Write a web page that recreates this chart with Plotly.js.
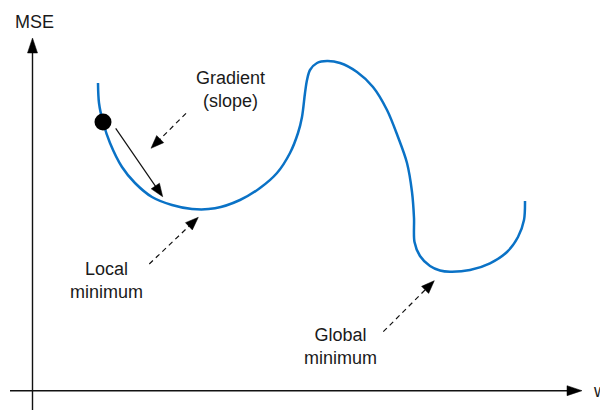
<!DOCTYPE html>
<html>
<head>
<meta charset="utf-8">
<script src="https://cdn.plot.ly/plotly-3.0.1.min.js"></script>
<style>html,body{margin:0;padding:0;background:#fff;}#chart{width:600px;height:410px;}</style>
</head>
<body>
<div id="chart"></div>
<script>
// Loss curve: weight w vs MSE
const curveW   = [98, 99, 103, 110, 122, 135, 152, 172, 192, 215, 240, 260, 277, 290, 298, 302, 305, 307, 310, 317, 327, 340, 357, 373, 387, 398, 407, 412, 414, 414.5, 420, 430, 440, 450, 470, 490, 507, 518, 524, 525];
const curveMSE = [327, 307, 288, 267, 243, 227, 213, 205, 201, 201.7, 210, 222, 237, 257, 277, 293, 317, 330, 340, 347, 349, 347, 338, 323, 300, 273, 247, 218, 192, 168, 154, 144, 139.5, 138.3, 140, 146.7, 158, 173, 190, 209];

// Current position of the ball
const ballW = [103];
const ballMSE = [288];

// Text labels
const labelTexts = ["Gradient<br>(slope)", "Local<br>minimum", "Global<br>minimum"];
const axisLabels = ["MSE", "w"];

const H = 410;
const font = {family: "Liberation Sans, Arial, sans-serif", size: 18, color: "#1a1a1a"};

function arrowShapes(x0, y0, x1, y1, opts) {
  const len = opts.headLen, hw = opts.headWidth / 2;
  const dx = x1 - x0, dy = y1 - y0;
  const d = Math.hypot(dx, dy);
  const ux = dx / d, uy = dy / d;
  const bx = x1 - ux * len, by = y1 - uy * len;
  const px = -uy, py = ux;
  const shapes = [];
  shapes.push({type: "line", xref: "x", yref: "y", x0: x0, y0: y0, x1: bx + ux * 1, y1: by + uy * 1,
    line: {color: "#111", width: opts.width, dash: opts.dash || "solid"}});
  shapes.push({type: "path", xref: "x", yref: "y",
    path: `M ${x1} ${y1} L ${bx + px * hw} ${by + py * hw} L ${bx - px * hw} ${by - py * hw} Z`,
    fillcolor: "#000", line: {color: "#000", width: 0.5}});
  return shapes;
}

let shapes = [];
// axes
shapes = shapes.concat(arrowShapes(32.5, H - 410, 32.5, H - 38, {headLen: 15, headWidth: 10, width: 1.4}));
shapes = shapes.concat(arrowShapes(10, H - 390.7, 582, H - 390.7, {headLen: 15, headWidth: 10, width: 1.4}));
// gradient solid arrow
shapes = shapes.concat(arrowShapes(115.7, H - 128.3, 162.7, H - 196.7, {headLen: 13, headWidth: 10, width: 1.2}));
// gradient dashed
shapes = shapes.concat(arrowShapes(186, H - 113.3, 151, H - 148.3, {headLen: 13, headWidth: 10, width: 1.2, dash: "5px,4px"}));
// local minimum dashed
shapes = shapes.concat(arrowShapes(149.3, H - 264, 198.3, H - 217.3, {headLen: 13, headWidth: 10, width: 1.2, dash: "5px,4px"}));
// global minimum dashed
shapes = shapes.concat(arrowShapes(383.3, H - 331.7, 434.3, H - 280.7, {headLen: 13, headWidth: 10, width: 1.2, dash: "5px,4px"}));

const traces = [
  {x: curveW, y: curveMSE, type: "scatter", mode: "lines",
   line: {color: "#0a72c6", width: 2.5, shape: "spline", smoothing: 0.9}, hoverinfo: "skip"},
  {x: ballW, y: ballMSE, type: "scatter", mode: "markers",
   marker: {color: "#000", size: 17}, hoverinfo: "skip"}
];

const annotations = [
  {x: 230.3, y: H - 89, text: labelTexts[0], showarrow: false, font: font, xanchor: "center", yanchor: "middle"},
  {x: 106, y: H - 280.5, text: labelTexts[1], showarrow: false, font: font, xanchor: "center", yanchor: "middle"},
  {x: 340, y: H - 346.5, text: labelTexts[2], showarrow: false, font: font, xanchor: "center", yanchor: "middle"},
  {x: 34.2, y: H - 21.7, text: axisLabels[0], showarrow: false, font: font, xanchor: "center", yanchor: "middle"},
  {x: 591, y: H - 391, text: axisLabels[1], showarrow: false, font: font, xanchor: "left", yanchor: "middle"}
];

const layout = {
  width: 600, height: 410,
  margin: {l: 0, r: 0, t: 0, b: 0, pad: 0},
  paper_bgcolor: "#fff", plot_bgcolor: "#fff",
  showlegend: false,
  xaxis: {range: [0, 600], visible: false, fixedrange: true},
  yaxis: {range: [0, 410], visible: false, fixedrange: true},
  shapes: shapes,
  annotations: annotations
};

Plotly.newPlot("chart", traces, layout, {displayModeBar: false, staticPlot: true});
</script>
</body>
</html>
